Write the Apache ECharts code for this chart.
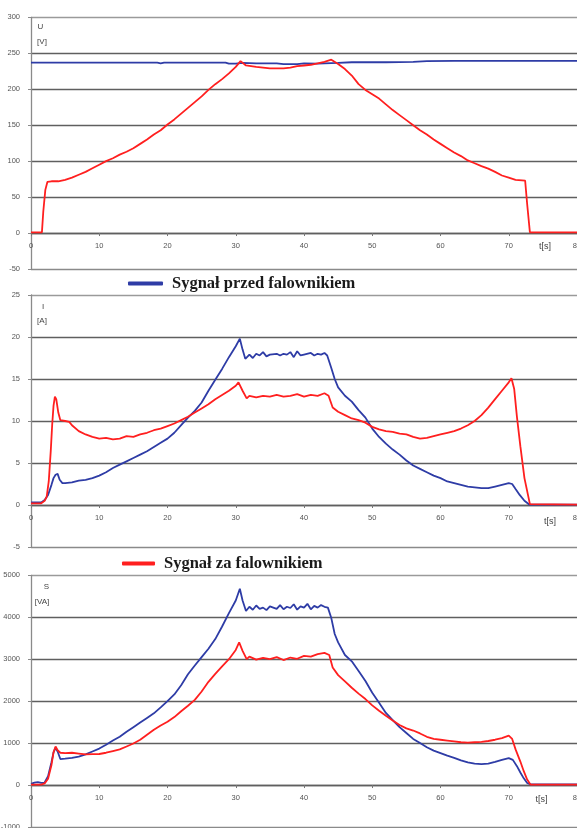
<!DOCTYPE html>
<html>
<head>
<meta charset="utf-8">
<script src="https://cdn.jsdelivr.net/npm/echarts@6/dist/echarts.min.js"></script>
<style>
html,body{margin:0;padding:0;background:#fff;}
#c{width:577px;height:828px;}
</style>
</head>
<body>
<div id="c"></div>
<script>
// ---------- DATA ----------
const nameBefore = 'Sygnał przed falownikiem';
const nameAfter = 'Sygnał za falownikiem';

// Panel U [V]
const tUBefore = [0, 18.5, 19, 19.5, 22, 28.5, 29, 30, 31, 33, 36, 37, 39, 40, 42, 43, 45, 47, 52, 56, 58, 62, 70, 80];
const uBefore  = [237, 237, 236, 237, 237, 237, 235.5, 235.5, 236.5, 236, 236, 235, 235, 236, 235.5, 236, 236.5, 237.5, 237.5, 238, 239, 239.5, 239.5, 239.5];
const tUAfter = [0, 1.6, 1.8, 2.1, 2.4, 3, 4, 5, 6, 7, 8, 9, 10, 11, 12, 13, 14, 15, 16, 17, 18, 19, 20, 21, 22, 23, 24, 25, 26, 27, 28, 29, 30, 30.7, 31.5, 33, 35, 37, 38, 39, 40, 41, 42, 43, 44, 45, 46, 47, 48, 49, 50, 51, 52, 53, 54, 55, 56, 57, 58, 59, 60, 61, 62, 63, 64, 65, 66, 67, 68, 69, 70, 71, 72.4, 72.7, 73.1, 80];
const uAfter  = [1, 1, 30, 60, 71, 72, 72, 74, 77, 81, 85, 90, 95, 100, 104, 109, 113, 118, 124, 130, 137, 143, 151, 158, 166, 174, 182, 190, 199, 207, 214, 222, 231, 239, 233, 231, 229, 229, 230, 232, 233, 234, 236, 238, 241, 235, 228, 219, 207, 199, 193, 187, 179, 171, 164, 157, 150, 143, 137, 130, 124, 118, 112, 107, 101, 97, 93, 89.5, 85, 80, 77, 74, 73, 40, 1, 1];

// Panel I [A]
const tIBefore = [0, 1.5, 2, 2.5, 3, 3.3, 3.6, 3.9, 4.2, 4.6, 5, 6, 7, 8, 9, 10, 11, 12, 13, 14, 15, 16, 17, 18, 19, 20, 21, 22, 23, 24, 25, 26, 27, 28, 29, 30, 30.6, 31, 31.4, 32, 32.5, 33, 33.5, 34, 34.5, 35, 36, 36.5, 37, 37.5, 38, 38.5, 39, 39.5, 40, 41, 41.5, 42, 42.5, 43, 43.4, 44, 44.5, 45, 46, 47, 48, 49, 50, 51, 52, 53, 54, 55, 56, 57, 58, 59, 60, 61, 62, 63, 64, 65, 66, 67, 68, 69, 70, 70.5, 71, 71.6, 72.3, 73, 80];
const iBefore  = [0.3, 0.3, 0.6, 1.2, 2.4, 3.2, 3.6, 3.7, 3.0, 2.6, 2.6, 2.7, 2.9, 3.0, 3.2, 3.5, 3.9, 4.4, 4.8, 5.2, 5.6, 6.0, 6.4, 6.9, 7.4, 7.9, 8.6, 9.5, 10.4, 11.2, 12.2, 13.6, 14.9, 16.2, 17.6, 18.9, 19.8, 18.5, 17.4, 17.9, 17.5, 18.0, 17.8, 18.2, 17.7, 17.9, 18.0, 17.8, 18.0, 17.9, 18.2, 17.6, 18.3, 17.8, 17.9, 18.1, 17.8, 18.0, 17.9, 18.1, 17.8, 16.3, 15.0, 14.0, 13.0, 12.3, 11.3, 10.4, 9.1, 8.1, 7.3, 6.6, 6.0, 5.3, 4.7, 4.3, 3.9, 3.5, 3.2, 2.8, 2.6, 2.4, 2.2, 2.1, 2.0, 2.0, 2.2, 2.4, 2.6, 2.5, 1.9, 1.2, 0.5, 0.05, 0.05];
const tIAfter = [0, 1.5, 2, 2.3, 2.6, 2.9, 3.1, 3.3, 3.5, 3.7, 4.0, 4.3, 5, 5.6, 6, 7, 8, 9, 10, 11, 12, 13, 14, 15, 16, 17, 18, 19, 20, 21, 22, 23, 24, 25, 26, 27, 28, 29, 30, 30.4, 31, 31.6, 32, 33, 34, 35, 36, 37, 38, 39, 40, 41, 42, 43, 43.6, 44.2, 45, 46, 47, 48, 49, 50, 51, 52, 53, 54, 55, 56, 57, 58, 59, 60, 61, 62, 63, 64, 65, 66, 67, 68, 69, 70, 70.4, 70.8, 71.2, 71.7, 72.3, 73.1, 80];
const iAfter  = [0.2, 0.2, 0.5, 1.0, 2.8, 6.5, 9.5, 11.8, 12.9, 12.6, 11.0, 10.1, 10.0, 9.9, 9.5, 8.8, 8.4, 8.1, 7.9, 8.0, 7.8, 7.9, 8.2, 8.1, 8.4, 8.6, 8.9, 9.1, 9.4, 9.7, 10.1, 10.5, 11.0, 11.5, 12.0, 12.6, 13.1, 13.6, 14.2, 14.6, 13.6, 12.7, 13.0, 12.8, 13.0, 12.9, 13.1, 12.9, 13.0, 13.2, 12.9, 13.1, 13.0, 13.3, 13.0, 11.6, 11.1, 10.7, 10.3, 10.1, 9.8, 9.3, 9.0, 8.8, 8.7, 8.5, 8.4, 8.1, 7.9, 8.0, 8.2, 8.4, 8.6, 8.8, 9.1, 9.5, 10.0, 10.7, 11.6, 12.6, 13.6, 14.6, 15.1, 13.8, 10.5, 7.0, 3.2, 0.1, 0.05];

// Panel S [VA]
const tSBefore = [0, 0.5, 1, 1.5, 2, 2.5, 3, 3.3, 3.6, 3.9, 4.3, 5, 6, 7, 8, 9, 10, 11, 12, 13, 14, 15, 16, 17, 18, 19, 20, 21, 22, 23, 24, 25, 26, 27, 28, 29, 30, 30.6, 31, 31.5, 32, 32.5, 33, 33.5, 34, 34.5, 35, 36, 36.5, 37, 37.5, 38, 38.5, 39, 39.5, 40, 40.5, 41, 41.5, 42, 42.5, 43, 43.5, 44, 44.5, 45, 46, 47, 48, 49, 50, 51, 52, 53, 54, 55, 56, 57, 58, 59, 60, 61, 62, 63, 64, 65, 66, 67, 68, 69, 70, 70.6, 71.2, 71.7, 72.2, 72.7, 73.2, 80];
const sBefore  = [30, 60, 70, 50, 60, 210, 545, 780, 890, 800, 620, 630, 650, 680, 730, 800, 870, 960, 1060, 1150, 1270, 1380, 1490, 1600, 1710, 1850, 2000, 2160, 2380, 2640, 2850, 3050, 3250, 3480, 3780, 4100, 4400, 4680, 4400, 4150, 4250, 4180, 4280, 4200, 4230, 4170, 4260, 4200, 4290, 4190, 4250, 4220, 4310, 4180, 4260, 4230, 4320, 4190, 4270, 4230, 4290, 4250, 4230, 3980, 3600, 3400, 3100, 2950, 2720, 2480, 2200, 1960, 1720, 1550, 1380, 1240, 1100, 1000, 900, 820, 760, 700, 650, 590, 540, 510, 500, 510, 550, 600, 640, 600, 450, 300, 160, 50, 15, 15];
const tSAfter = [0, 1.5, 2, 2.5, 3, 3.3, 3.6, 3.9, 4.3, 5, 6, 7, 8, 9, 10, 11, 12, 13, 14, 15, 16, 17, 18, 19, 20, 21, 22, 23, 24, 25, 26, 27, 28, 29, 30, 30.5, 31, 31.6, 32, 33, 34, 35, 36, 37, 38, 39, 40, 41, 42, 43, 43.7, 44.2, 45, 46, 47, 48, 49, 50, 51, 52, 53, 54, 55, 56, 57, 58, 59, 60, 61, 62, 63, 64, 65, 66, 67, 68, 69, 70, 70.5, 71, 71.7, 72.2, 72.7, 73.2, 80];
const sAfter  = [10, 10, 40, 150, 480, 780, 920, 830, 770, 760, 770, 750, 730, 735, 740, 770, 810, 850, 920, 990, 1080, 1200, 1320, 1420, 1510, 1620, 1760, 1890, 2030, 2230, 2460, 2650, 2830, 3000, 3220, 3400, 3200, 3000, 3060, 2990, 3030, 3000, 3050, 2980, 3040, 3010, 3080, 3060, 3120, 3150, 3100, 2800, 2620, 2470, 2320, 2180, 2050, 1900, 1770, 1650, 1540, 1430, 1350, 1300, 1230, 1150, 1100, 1080, 1060, 1040, 1020, 1010, 1020, 1030, 1050, 1080, 1120, 1180, 1100, 850, 560, 330, 130, 10, 10];

// Axis settings
const xMin = 0, xMax = 80, xStep = 10;
const yU = {min: -50, max: 300, step: 50, unit: ['U', '[V]']};
const yI = {min: -5, max: 25, step: 5, unit: ['I', '[A]']};
const yS = {min: -1000, max: 5000, step: 1000, unit: ['S', '[VA]']};

// ---------- CHART ----------
function zip(t, v) { return t.map((x, i) => [x, v[i]]); }

const BLUE = '#2e3ca6';
const RED = '#ff1f1f';
const GRID_DARK = '#5f5f5f';
const TICK_FONT = 'Liberation Sans';

const grids = [
  {left: 31, right: 0, top: 17.3, height: 251.7, outerBoundsMode: 'none', containLabel: false},
  {left: 31, right: 0, top: 295, height: 252, outerBoundsMode: 'none', containLabel: false},
  {left: 31, right: 0, top: 575.3, height: 251.7, outerBoundsMode: 'none', containLabel: false}
];

function splitColors(n) {
  const arr = [];
  for (let i = 0; i < n; i++) arr.push(GRID_DARK);
  arr[0] = '#8a8a8a';
  arr[n - 1] = '#9a9a9a';
  return arr;
}

const yDefs = [yU, yI, yS];
const xAxes = yDefs.map((d, i) => ({
  type: 'value', gridIndex: i, min: xMin, max: xMax, interval: xStep,
  position: 'bottom',
  // move the axis up to the y = 0 level of its grid
  offset: -grids[i].height * (0 - d.min) / (d.max - d.min),
  axisLine: {show: true, onZero: false, lineStyle: {color: GRID_DARK, width: 1.3}},
  axisTick: {show: true, length: 3, lineStyle: {color: '#777'}},
  axisLabel: {fontSize: 7.5, color: '#555', fontFamily: TICK_FONT, margin: 9, formatter: v => String(v)},
  splitLine: {show: false}
}));
const yAxes = yDefs.map((d, i) => {
  const n = Math.round((d.max - d.min) / d.step) + 1;
  return {
    type: 'value', gridIndex: i, min: d.min, max: d.max, interval: d.step,
    axisLine: {show: true, onZero: false, lineStyle: {color: '#8a8a8a', width: 1.3}},
    axisTick: {show: true, length: 3, lineStyle: {color: '#8a8a8a'}},
    axisLabel: {fontSize: 7.5, color: '#555', fontFamily: TICK_FONT, margin: 11, formatter: v => String(v)},
    splitLine: {show: true, lineStyle: {color: splitColors(n), width: 1.3}}
  };
});

function line(name, color, xi, data) {
  return {
    name: name, type: 'line', xAxisIndex: xi, yAxisIndex: xi,
    data: data, showSymbol: false, symbol: 'none',
    lineStyle: {color: color, width: 1.8}, itemStyle: {color: color},
    silent: true
  };
}

const series = [
  line(nameBefore, BLUE, 0, zip(tUBefore, uBefore)),
  line(nameAfter, RED, 0, zip(tUAfter, uAfter)),
  line(nameBefore, BLUE, 1, zip(tIBefore, iBefore)),
  line(nameAfter, RED, 1, zip(tIAfter, iAfter)),
  line(nameBefore, BLUE, 2, zip(tSBefore, sBefore)),
  line(nameAfter, RED, 2, zip(tSAfter, sAfter))
];

const legendText = {fontFamily: 'Liberation Serif', fontWeight: 'bold', fontSize: 16.5, color: '#1a1a1a', padding: [0, 0, 0, 4]};
const legends = [
  {data: [nameBefore], left: 128, top: 275, padding: 0, icon: 'roundRect', itemWidth: 35, itemHeight: 4, textStyle: legendText, selectedMode: false},
  {data: [nameAfter], left: 122, top: 555, padding: 0, icon: 'roundRect', itemWidth: 33, itemHeight: 4, textStyle: legendText, selectedMode: false}
];

const unitPos = [[40.5, 27, 41.5], [43, 306.5, 320.5], [46.5, 587, 601.5]];
const tsPos = [[545, 247], [550, 521.5], [541.5, 800]];
const graphics = [];
yDefs.forEach((d, i) => {
  graphics.push({type: 'text', x: unitPos[i][0], y: unitPos[i][1], style: {text: d.unit[0], fontSize: 8, fill: '#444', fontFamily: TICK_FONT, textAlign: 'center', textVerticalAlign: 'middle'}, silent: true});
  graphics.push({type: 'text', x: 42, y: unitPos[i][2], style: {text: d.unit[1], fontSize: 8, fill: '#444', fontFamily: TICK_FONT, textAlign: 'center', textVerticalAlign: 'middle'}, silent: true});
  graphics.push({type: 'text', x: tsPos[i][0], y: tsPos[i][1], style: {text: 't[s]', fontSize: 9, fill: '#444', fontFamily: TICK_FONT, textAlign: 'center', textVerticalAlign: 'middle'}, silent: true});
});

const chart = echarts.init(document.getElementById('c'), null, {renderer: 'canvas'});
chart.setOption({
  backgroundColor: '#ffffff',
  animation: false,
  grid: grids,
  xAxis: xAxes,
  yAxis: yAxes,
  legend: legends,
  series: series,
  graphic: graphics
});
</script>
</body>
</html>
